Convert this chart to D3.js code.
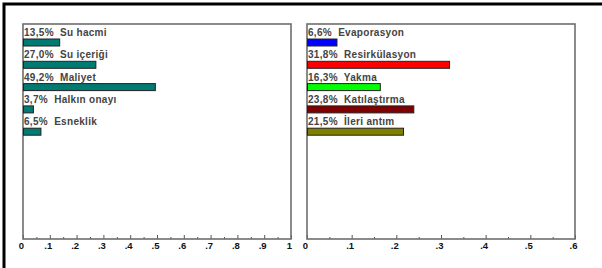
<!DOCTYPE html>
<html>
<head>
<meta charset="utf-8">
<script src="https://cdn.jsdelivr.net/npm/d3@7"></script>
<style>
  body { margin: 0; background: #fff; }
  svg { display: block; }
  .lbl { font-family: "Liberation Sans", Arial, sans-serif; font-size: 10px; font-weight: bold; fill: #444; white-space: pre; letter-spacing: 0.3px; }
  .tick text { font-family: "Liberation Sans", Arial, sans-serif; font-size: 9.5px; font-weight: bold; fill: #111; }
</style>
</head>
<body>
<main></main>
<script>
const leftNames = ['Su hacmi', 'Su içeriği', 'Maliyet', 'Halkın onayı', 'Esneklik']
const leftValues = [0.135, 0.270, 0.492, 0.037, 0.065]
const leftPct = ['13,5%', '27,0%', '49,2%', '3,7%', '6,5%']

const rightNames = ['Evaporasyon', 'Resirkülasyon', 'Yakma', 'Katılaştırma', 'İleri antım']
const rightValues = [0.066, 0.318, 0.163, 0.238, 0.215]
const rightPct = ['6,6%', '31,8%', '16,3%', '23,8%', '21,5%']
const rightColors = ['#0000ff', '#ff0000', '#00ff00', '#800000', '#808000']

const leftTicks = [0, 0.1, 0.2, 0.3, 0.4, 0.5, 0.6, 0.7, 0.8, 0.9, 1]
const rightTicks = [0, 0.1, 0.2, 0.3, 0.4, 0.5, 0.6]

const width = 602
const height = 268
const plot = { top: 24, bottom: 239 }

const svg = d3.select('main')
  .append('svg')
  .attr('width', width)
  .attr('height', height)

// outer frame (only top and left edges show)
svg.append('path')
  .attr('d', `M4,268 V4 H602`)
  .attr('fill', 'none')
  .attr('stroke', '#000')
  .attr('stroke-width', 3)

const tickFmt = (d) => {
  if (d === 0) return '0'
  if (d === 1) return '1'
  return d3.format('.1f')(d).replace(/^0/, '')
}

const drawPanel = (x0, x1, maxVal, ticks, names, values, pcts, colors) => {
  const g = svg.append('g')

  const xScale = d3.scaleLinear()
    .domain([0, maxVal])
    .range([x0, x1])

  const yScale = d3.scaleBand()
    .domain(names)
    .range([plot.top, plot.top + names.length * 22.3])

  // minor ticks
  const minor = d3.range(0.05, maxVal, 0.1)
  g.append('g')
    .attr('transform', `translate(0, ${plot.bottom})`)
    .call(d3.axisBottom(xScale).tickValues(minor).tickSize(-2).tickFormat(''))
    .call(a => a.select('.domain').remove())
    .call(a => a.selectAll('line').attr('stroke', '#555'))

  g.append('g')
    .attr('transform', `translate(0, ${plot.bottom})`)
    .call(d3.axisBottom(xScale).tickValues(ticks).tickSize(-4).tickPadding(3).tickFormat(tickFmt))
    .call(a => a.select('.domain').remove())
    .call(a => a.selectAll('line').attr('stroke', '#555'))
    .call(a => a.selectAll('text').attr('dx', -2))

  // box
  g.append('rect')
    .attr('x', x0)
    .attr('y', plot.top)
    .attr('width', x1 - x0)
    .attr('height', plot.bottom - plot.top)
    .attr('fill', 'none')
    .attr('stroke', '#6e6e6e')
    .attr('stroke-width', 1.6)

  g.selectAll('text.lbl')
    .data(names)
    .enter()
    .append('text')
    .attr('class', 'lbl')
    .attr('x', x0 + 1)
    .attr('y', (d) => yScale(d) + 12)
    .text((d, i) => `${pcts[i]}  ${d}`)

  g.selectAll('rect.bar')
    .data(values)
    .enter()
    .append('rect')
    .attr('class', 'bar')
    .attr('x', x0 + 0.5)
    .attr('y', (d, i) => yScale(names[i]) + 15)
    .attr('width', (d) => xScale(d) - x0)
    .attr('height', 7)
    .attr('fill', (d, i) => colors[i])
    .attr('stroke', '#222')
    .attr('stroke-width', 1)
}

drawPanel(23, 291, 1, leftTicks, leftNames, leftValues, leftPct, leftNames.map(() => '#007b73'))
drawPanel(307, 575, 0.6, rightTicks, rightNames, rightValues, rightPct, rightColors)
</script>
</body>
</html>
